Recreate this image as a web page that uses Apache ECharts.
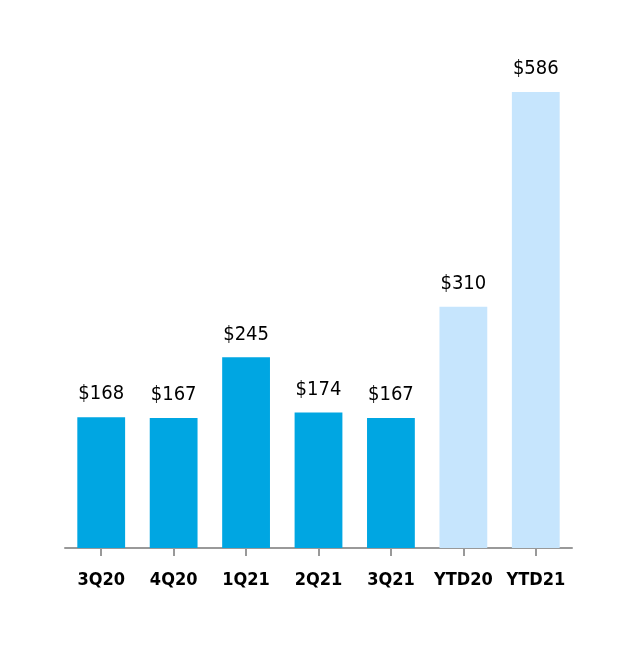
<!DOCTYPE html>
<html><head><meta charset="utf-8">
<script src="https://cdn.jsdelivr.net/npm/echarts@6/dist/echarts.min.js"></script>
<style>html,body{margin:0;padding:0;background:#fff}#c{width:636px;height:660px}</style>
</head><body><div id="c"></div>
<script>
const categories = ['3Q20','4Q20','1Q21','2Q21','3Q21','YTD20','YTD21'];
const values = [168, 167, 245, 174, 167, 310, 586];
const barColors = ['#00A6E2','#00A6E2','#00A6E2','#00A6E2','#00A6E2','#C6E5FD','#C6E5FD'];
const FONT = '"Liberation Sans Narrow","DejaVu Sans Condensed","Arial Narrow",sans-serif';
const chart = echarts.init(document.getElementById('c'));
chart.setOption({
  animation: false,
  grid: {left: 65, right: 64, top: 81, bottom: 112},
  xAxis: {
    type: 'category', data: categories,
    axisLine: {show: true, lineStyle: {color: '#999', width: 2}},
    axisTick: {show: true, alignWithLabel: true, interval: 0, length: 8, lineStyle: {color: '#999', width: 2}},
    axisLabel: {interval: 0, margin: 23, color: '#000', fontFamily: FONT, fontWeight: 'bold', fontSize: 18}
  },
  yAxis: {type: 'value', min: 0, max: 600, show: false, splitLine: {show: false}},
  series: [{
    type: 'bar', barWidth: '66%',
    data: values.map((v, i) => ({value: v, itemStyle: {color: barColors[i]}})),
    label: {show: true, position: 'top', distance: 13, color: '#000', fontFamily: FONT, fontSize: 20,
      formatter: p => '$' + p.value}
  }]
});
</script></body></html>
